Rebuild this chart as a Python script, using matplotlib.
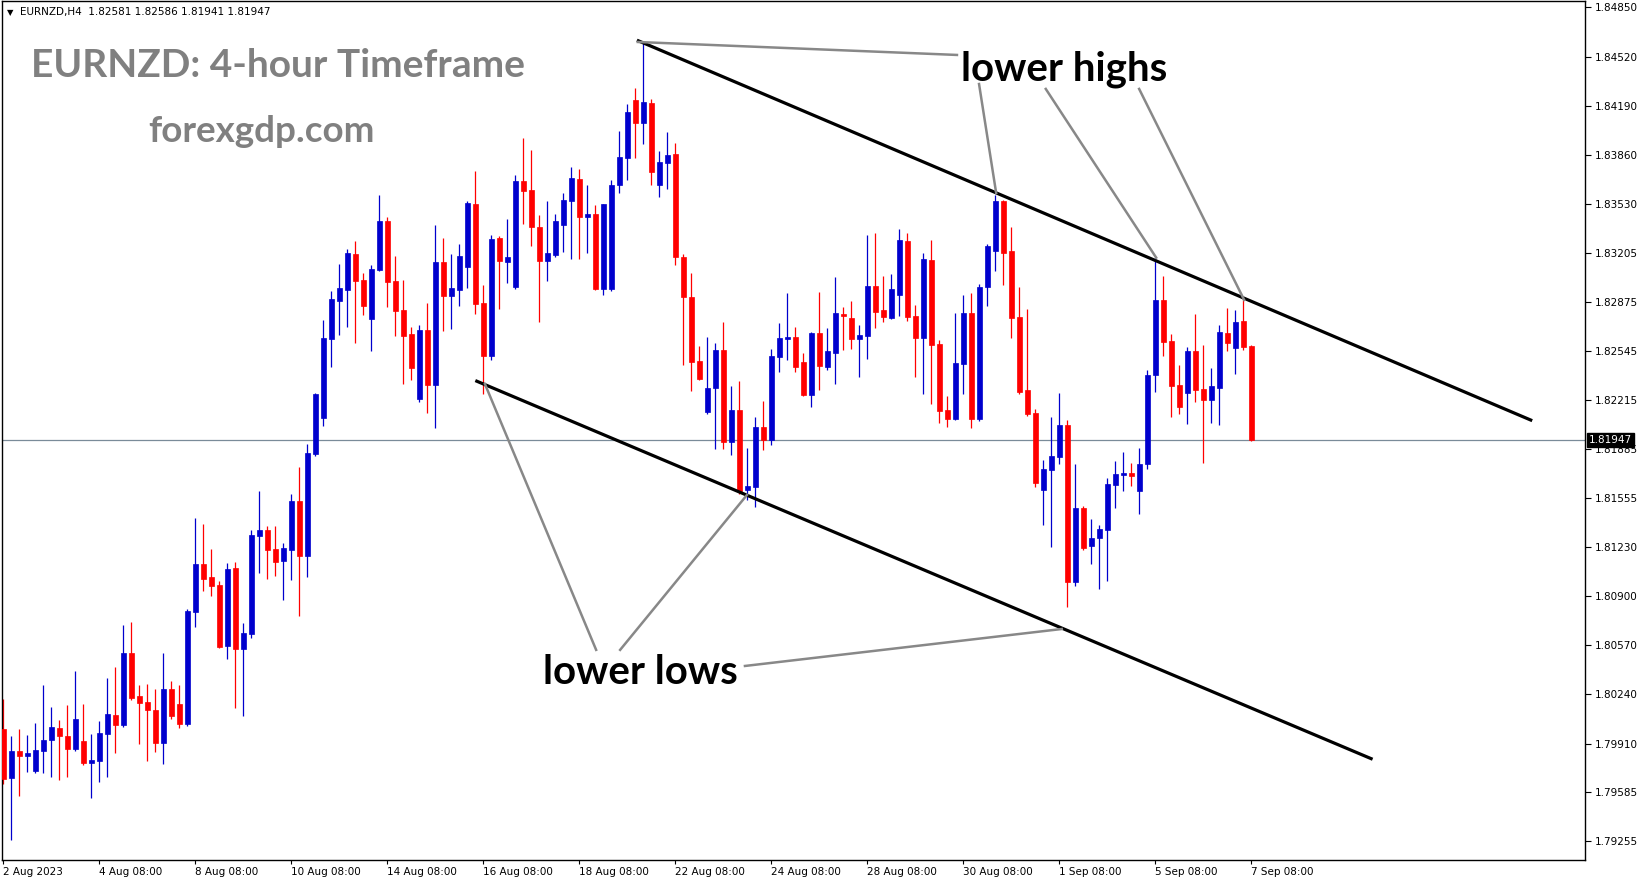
import matplotlib
matplotlib.use("Agg")
import matplotlib.pyplot as plt
import matplotlib.transforms as mtransforms
import numpy as np

# EURNZD H4 candles
opens = [1.80008, 1.79680, 1.79861, 1.79827, 1.79727, 1.79861, 1.79935, 1.80015, 1.79961, 1.79874,
         1.79928, 1.79780, 1.79794, 1.79975, 1.80102, 1.80035, 1.80518, 1.80230, 1.80190, 1.80136,
         1.79914, 1.80277, 1.80176, 1.80042, 1.80793, 1.81116, 1.81028, 1.80975, 1.80565, 1.81089,
         1.80545, 1.80646, 1.81303, 1.81344, 1.81216, 1.81136, 1.81210, 1.81538, 1.81169, 1.81854,
         1.82095, 1.82625, 1.82880, 1.82954, 1.83196, 1.83021, 1.82760, 1.83088, 1.83417, 1.83015,
         1.82820, 1.82659, 1.82223, 1.82686, 1.82317, 1.83142, 1.82914, 1.82954, 1.83108, 1.83531,
         1.82867, 1.82511, 1.83303, 1.83142, 1.82974, 1.83686, 1.83625, 1.83377, 1.83149, 1.83189,
         1.83390, 1.83551, 1.83699, 1.83444, 1.83464, 1.82961, 1.82961, 1.83659, 1.83840, 1.84229,
         1.84075, 1.84209, 1.83659, 1.83806, 1.83867, 1.83176, 1.82907, 1.82478, 1.82136, 1.82297,
         1.82552, 1.81934, 1.82149, 1.81612, 1.81632, 1.82035, 1.81948, 1.82505, 1.82625, 1.82639,
         1.82471, 1.82250, 1.82666, 1.82437, 1.82531, 1.82793, 1.82766, 1.82625, 1.82645, 1.82981,
         1.82820, 1.82766, 1.82921, 1.83283, 1.82780, 1.82632, 1.83155, 1.82592, 1.82149, 1.82089,
         1.82458, 1.82800, 1.82089, 1.82974, 1.83216, 1.83551, 1.83216, 1.82773, 1.82283, 1.82129,
         1.81612, 1.81746, 1.81834, 1.82048, 1.80995, 1.81491, 1.81236, 1.81290, 1.81344, 1.81646,
         1.81713, 1.81726, 1.81605, 1.81787, 1.82384, 1.82887, 1.82612, 1.82317, 1.82263, 1.82545,
         1.82290, 1.82216, 1.82297, 1.82666, 1.82565, 1.82746, 1.82581]
highs = [1.80210, 1.79961, 1.80008, 1.79968, 1.80049, 1.80304, 1.80156, 1.80069, 1.80169, 1.80398,
         1.80176, 1.79975, 1.80062, 1.80351, 1.80424, 1.80706, 1.80726, 1.80304, 1.80310, 1.80277,
         1.80518, 1.80330, 1.80304, 1.80814, 1.81424, 1.81384, 1.81216, 1.81001, 1.81122, 1.81129,
         1.80720, 1.81344, 1.81605, 1.81371, 1.81371, 1.81257, 1.81585, 1.81766, 1.81921, 1.82263,
         1.82753, 1.82947, 1.83129, 1.83229, 1.83283, 1.83068, 1.83122, 1.83592, 1.83444, 1.83182,
         1.83021, 1.82706, 1.82719, 1.82867, 1.83390, 1.83303, 1.83196, 1.83263, 1.83551, 1.83753,
         1.82988, 1.83323, 1.83316, 1.83431, 1.83726, 1.83974, 1.83894, 1.83457, 1.83551, 1.83464,
         1.83605, 1.83779, 1.83766, 1.83659, 1.83524, 1.83531, 1.83692, 1.84021, 1.84202, 1.84310,
         1.84618, 1.84236, 1.83887, 1.84014, 1.83940, 1.83196, 1.83068, 1.82578, 1.82639, 1.82599,
         1.82739, 1.82310, 1.82343, 1.81894, 1.82102, 1.82209, 1.82558, 1.82733, 1.82934, 1.82706,
         1.82531, 1.82672, 1.82941, 1.82699, 1.83041, 1.82840, 1.82880, 1.82719, 1.83323, 1.83337,
         1.83048, 1.83062, 1.83363, 1.83337, 1.82853, 1.83202, 1.83290, 1.82619, 1.82243, 1.82800,
         1.82921, 1.82934, 1.82994, 1.83263, 1.83592, 1.83560, 1.83377, 1.82974, 1.82827, 1.82156,
         1.81813, 1.82102, 1.82263, 1.82082, 1.81787, 1.81505, 1.81418, 1.81377, 1.81693, 1.81807,
         1.81867, 1.81793, 1.81894, 1.82417, 1.83169, 1.83048, 1.82659, 1.82451, 1.82572, 1.82793,
         1.82585, 1.82431, 1.82719, 1.82833, 1.82820, 1.82900, 1.82586]
lows = [1.79639, 1.79264, 1.79559, 1.79720, 1.79713, 1.79713, 1.79686, 1.79666, 1.79686, 1.79861,
        1.79767, 1.79545, 1.79653, 1.79686, 1.79847, 1.80022, 1.80203, 1.79908, 1.79794, 1.79854,
        1.79774, 1.80075, 1.80015, 1.80028, 1.80693, 1.80934, 1.80901, 1.80552, 1.80478, 1.80149,
        1.80096, 1.80619, 1.81055, 1.81015, 1.81035, 1.80874, 1.81008, 1.80767, 1.81028, 1.81840,
        1.82042, 1.82437, 1.82652, 1.82706, 1.82599, 1.82786, 1.82545, 1.83082, 1.82840, 1.82645,
        1.82323, 1.82350, 1.82203, 1.82129, 1.82028, 1.82679, 1.82692, 1.82847, 1.82968, 1.82793,
        1.82256, 1.82484, 1.82827, 1.83001, 1.82960, 1.83397, 1.83249, 1.82739, 1.83015, 1.83176,
        1.83209, 1.83162, 1.83162, 1.83202, 1.82954, 1.82921, 1.82950, 1.83605, 1.83692, 1.83840,
        1.83934, 1.83659, 1.83578, 1.83632, 1.83122, 1.82451, 1.82276, 1.82350, 1.82125, 1.81887,
        1.81887, 1.81847, 1.81585, 1.81545, 1.81498, 1.81881, 1.81914, 1.82404, 1.82484, 1.82404,
        1.82240, 1.82169, 1.82283, 1.82417, 1.82323, 1.82552, 1.82558, 1.82370, 1.82491, 1.82699,
        1.82739, 1.82760, 1.82780, 1.82746, 1.82370, 1.82256, 1.82189, 1.82062, 1.82035, 1.82080,
        1.82256, 1.82028, 1.82075, 1.82847, 1.83082, 1.82988, 1.82632, 1.82256, 1.82109, 1.81632,
        1.81377, 1.81230, 1.81787, 1.80827, 1.80968, 1.81210, 1.81116, 1.80948, 1.81001, 1.81491,
        1.81605, 1.81639, 1.81451, 1.81753, 1.82270, 1.82511, 1.82102, 1.82122, 1.82055, 1.82203,
        1.81793, 1.82062, 1.82048, 1.82545, 1.82390, 1.82552, 1.81941]
closes = [1.79673, 1.79861, 1.79827, 1.79847, 1.79868, 1.79935, 1.80022, 1.79961, 1.79874, 1.80075,
          1.79780, 1.79800, 1.79982, 1.80109, 1.80035, 1.80518, 1.80216, 1.80183, 1.80136, 1.79914,
          1.80277, 1.80096, 1.80042, 1.80800, 1.81116, 1.81015, 1.80968, 1.80559, 1.81082, 1.80545,
          1.80653, 1.81310, 1.81344, 1.81210, 1.81129, 1.81223, 1.81538, 1.81169, 1.81860, 1.82256,
          1.82632, 1.82894, 1.82968, 1.83202, 1.83015, 1.82847, 1.83095, 1.83417, 1.83008, 1.82813,
          1.82645, 1.82431, 1.82686, 1.82317, 1.83142, 1.82914, 1.82968, 1.83182, 1.83538, 1.82860,
          1.82511, 1.83296, 1.83149, 1.83176, 1.83686, 1.83618, 1.83377, 1.83149, 1.83202, 1.83417,
          1.83558, 1.83706, 1.83444, 1.83464, 1.82961, 1.83531, 1.83659, 1.83847, 1.84149, 1.84075,
          1.84216, 1.83746, 1.83813, 1.83860, 1.83176, 1.82907, 1.82471, 1.82357, 1.82297, 1.82552,
          1.81934, 1.82149, 1.81605, 1.81639, 1.82035, 1.81948, 1.82511, 1.82632, 1.82639, 1.82437,
          1.82250, 1.82666, 1.82444, 1.82545, 1.82800, 1.82780, 1.82625, 1.82652, 1.82981, 1.82807,
          1.82773, 1.82961, 1.83290, 1.82773, 1.82632, 1.83162, 1.82585, 1.82142, 1.82089, 1.82464,
          1.82800, 1.82089, 1.82974, 1.83249, 1.83551, 1.83202, 1.82766, 1.82270, 1.82122, 1.81659,
          1.81753, 1.81840, 1.82048, 1.80995, 1.81491, 1.81223, 1.81290, 1.81350, 1.81652, 1.81720,
          1.81726, 1.81706, 1.81787, 1.82384, 1.82887, 1.82605, 1.82310, 1.82169, 1.82545, 1.82283,
          1.82216, 1.82310, 1.82672, 1.82599, 1.82739, 1.82572, 1.81947]

# axis labels
x_tick_pos = [0, 12, 24, 36, 48, 60, 72, 84, 96, 108, 120, 132, 144, 156]
x_tick_labels = ["2 Aug 2023", "4 Aug 08:00", "8 Aug 08:00", "10 Aug 08:00", "14 Aug 08:00",
                 "16 Aug 08:00", "18 Aug 08:00", "22 Aug 08:00", "24 Aug 08:00", "28 Aug 08:00",
                 "30 Aug 08:00", "1 Sep 08:00", "5 Sep 08:00", "7 Sep 08:00"]
y_ticks = [1.84850, 1.84520, 1.84190, 1.83860, 1.83530, 1.83205, 1.82875, 1.82545, 1.82215,
           1.81885, 1.81555, 1.81230, 1.80900, 1.80570, 1.80240, 1.79910, 1.79585, 1.79255]
last_price = 1.81947

# channel lines (bar index, price)
upper_line = [(79.2, 1.84630), (191.1, 1.82077)]
lower_line = [(59.0, 1.82346), (171.15, 1.79805)]
# pointer lines for the labels
pointers = [
    [(79.3, 1.84618), (119.2, 1.84531)],
    [(121.96, 1.84336), (124.1, 1.83605)],
    [(130.3, 1.84303), (144.1, 1.83171)],
    [(141.97, 1.84303), (155.1, 1.82887)],
    [(60.2, 1.82323), (74.1, 1.80539)],
    [(92.96, 1.81579), (77.1, 1.80539)],
    [(92.7, 1.80431), (132.3, 1.80679)],
]

BLUE = "#0000CD"
RED = "#FF0000"

fig = plt.figure(figsize=(16.49, 8.84), dpi=100)
ax = fig.add_axes([2.3 / 1649, 24 / 884, (1585 - 2.3) / 1649, (883 - 24) / 884])

o = np.array(opens); h = np.array(highs); l = np.array(lows); c = np.array(closes)
x = np.arange(len(o))
up = c >= o
cols = np.where(up, BLUE, RED)

ax.vlines(x, l, h, colors=cols, linewidth=0.9, zorder=2)
body_lo = np.minimum(o, c)
body_h = np.maximum(np.abs(c - o), 0.00006)
ax.bar(x, body_h, bottom=body_lo, width=0.62, color=cols, edgecolor=cols, linewidth=0.5, zorder=3)

# current price line
ax.axhline(last_price, color="#7A8B99", linewidth=0.9, zorder=1)

for (x0, y0), (x1, y1) in [upper_line, lower_line]:
    ax.plot([x0, x1], [y0, y1], color="black", linewidth=2.3, zorder=4, solid_capstyle="butt")
for (x0, y0), (x1, y1) in pointers:
    ax.plot([x0, x1], [y0, y1], color="#888888", linewidth=1.8, zorder=4)

ax.set_xlim(-0.125, 197.7)
ax.set_ylim(1.79129, 1.84893)

ax.yaxis.tick_right()
ax.set_yticks(y_ticks)
ax.set_yticklabels(["%.5f" % v for v in y_ticks])
ax.tick_params(axis="y", direction="out", length=4, width=0.8, labelsize=7.5, pad=3)
ax.set_xticks(x_tick_pos)
ax.set_xticklabels(x_tick_labels, ha="left")
ax.tick_params(axis="x", direction="out", length=3, width=0.8, labelsize=7.5, pad=2)
for s in ax.spines.values():
    s.set_linewidth(1.0)
    s.set_color("black")

# price tag on the axis
trans = mtransforms.blended_transform_factory(ax.transAxes, ax.transData)
ax.text(1.0025, last_price, "1.81947", transform=trans, color="white", fontsize=7.5,
        va="center", ha="left", zorder=10,
        bbox=dict(boxstyle="square,pad=0.15", facecolor="black", edgecolor="black"))

# header and captions
fig.text(7 / 1649, 1 - 13 / 884, "\u25bc", fontsize=6, va="center", ha="left")
fig.text(20 / 1649, 1 - 12 / 884, "EURNZD,H4  1.82581 1.82586 1.81941 1.81947",
         fontsize=7.5, va="center", ha="left")
fig.text(31 / 1649, 1 - 77 / 884, "EURNZD: 4-hour Timeframe", fontsize=28, color="#808080",
         fontweight="bold", family="Lato", ha="left", va="baseline")
fig.text(148 / 1649, 1 - 142 / 884, "forexgdp.com", fontsize=26.5, color="#808080",
         fontweight="bold", family="Lato", ha="left", va="baseline")
fig.text(961 / 1649, 1 - 80 / 884, "lower highs", fontsize=29, color="black",
         fontweight="bold", family="Lato", ha="left", va="baseline")
fig.text(543 / 1649, 1 - 684 / 884, "lower lows", fontsize=29, color="black",
         fontweight="bold", family="Lato", ha="left", va="baseline")

fig.savefig("out.png", dpi=100)
